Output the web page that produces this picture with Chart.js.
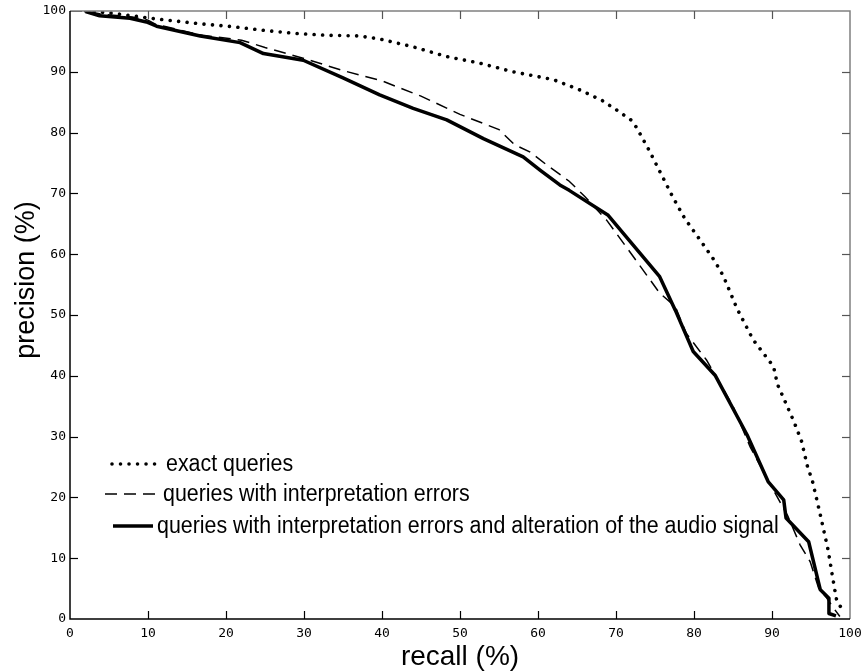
<!DOCTYPE html>
<html>
<head>
<meta charset="utf-8">
<script src="https://cdn.jsdelivr.net/npm/chart.js@4.4.1/dist/chart.umd.min.js"></script>
<style>
  html, body { margin: 0; padding: 0; background: #fff; }
  #wrap { width: 862px; height: 672px; position: relative; }
</style>
</head>
<body>
<div id="wrap"><canvas id="c" width="862" height="672"></canvas></div>
<script>
// ---- data ----
const xTicks = [0, 10, 20, 30, 40, 50, 60, 70, 80, 90, 100];
const yTicks = [0, 10, 20, 30, 40, 50, 60, 70, 80, 90, 100];
const xTitle = "recall (%)";
const yTitle = "precision (%)";

const seriesLabels = [
  "exact queries",
  "queries with interpretation errors",
  "queries with interpretation errors and alteration of the audio signal"
];

const exactRecall    = [2, 5, 8, 11, 16.7, 21, 25, 29, 33, 37, 39.7, 44, 48.3, 52.6, 56.8, 62, 65.4, 68.2, 70.1, 71.9, 72.6, 74.2, 75.7, 77.2, 78.8, 80.8, 82.7, 83.8, 85.5, 86.5, 87.6, 88.9, 90.2, 90.7, 91.6, 92.8, 93.8, 94.5, 95.2, 96.2, 97.2, 97.9, 98.3, 98.8];
const exactPrecision = [100, 99.7, 99.2, 98.7, 97.9, 97.4, 96.8, 96.3, 96.0, 95.9, 95.4, 94.1, 92.5, 91.4, 90.0, 88.7, 87.0, 85.3, 83.7, 82.1, 80.9, 77.2, 73.4, 69.6, 65.9, 62.3, 58.8, 56.3, 51.1, 48.6, 45.9, 43.7, 41.5, 38.6, 36.0, 32.5, 29.2, 25.3, 22.6, 17.1, 11.3, 5.9, 3.0, 2.0];

const interpRecall    = [0, 2, 4, 8, 10, 11, 17, 22, 25, 30, 35, 40, 45, 50, 55, 57, 59, 61, 64, 66, 68.8, 72, 75.6, 77.6, 79, 81.6, 83, 85, 87.2, 89, 91, 92, 93.6, 94.9, 96, 97, 97.9, 98.7];
const interpPrecision = [100, 100, 99.5, 99, 98.5, 97.8, 96, 95.2, 94, 92.2, 90.2, 88.5, 86, 83, 80.5, 78, 76.8, 74.8, 72, 69.5, 65.6, 60, 53.6, 51.4, 47, 42.6, 39.5, 35, 28.3, 24, 19.3, 17, 12.2, 9.4, 5, 3.5, 1.8, 0.4];

const alterRecall    = [2, 3.8, 7.7, 9.8, 11.1, 16.7, 21.8, 24.8, 29.9, 35, 39.7, 44, 48.3, 53, 58.1, 60.3, 62.8, 64, 69, 75.6, 77.6, 79.9, 82.7, 86.8, 89.5, 91.5, 91.8, 94.7, 96.2, 97.3, 97.3, 98.2];
const alterPrecision = [99.9, 99.2, 98.8, 98.2, 97.5, 95.9, 94.8, 93.0, 91.9, 89.0, 86.2, 84.0, 82.1, 79.0, 76.0, 73.8, 71.4, 70.5, 66.4, 56.3, 50.8, 44.0, 40.1, 30.3, 22.6, 19.6, 16.6, 12.7, 4.8, 3.4, 0.9, 0.5];

function pairs(xs, ys) { return xs.map((x, i) => ({ x: x, y: ys[i] })); }

// ---- plugins: frame with inward ticks, y title, and the legend ----
const framePlugin = {
  id: 'frame',
  afterDatasetsDraw(chart) {
    const ctx = chart.ctx, a = chart.chartArea;
    const sx = chart.scales.x, sy = chart.scales.y;
    ctx.save();
    ctx.lineCap = 'butt';
    ctx.strokeStyle = '#808080'; ctx.lineWidth = 1.5;
    ctx.beginPath();
    ctx.moveTo(a.left, a.top); ctx.lineTo(a.right, a.top); ctx.lineTo(a.right, a.bottom);
    ctx.stroke();
    ctx.strokeStyle = '#000'; ctx.lineWidth = 1.5;
    ctx.beginPath();
    ctx.moveTo(a.left, a.top); ctx.lineTo(a.left, a.bottom); ctx.lineTo(a.right, a.bottom);
    ctx.stroke();
    const L = 8;
    xTicks.slice(1, -1).forEach(v => {
      const px = Math.round(sx.getPixelForValue(v)) + 0.5;
      ctx.strokeStyle = '#000'; ctx.lineWidth = 1.2;
      ctx.beginPath(); ctx.moveTo(px, a.bottom); ctx.lineTo(px, a.bottom - L); ctx.stroke();
      ctx.strokeStyle = '#555';
      ctx.beginPath(); ctx.moveTo(px, a.top); ctx.lineTo(px, a.top + L); ctx.stroke();
    });
    yTicks.slice(1, -1).forEach(v => {
      const py = Math.round(sy.getPixelForValue(v)) + 0.5;
      ctx.strokeStyle = '#000'; ctx.lineWidth = 1.2;
      ctx.beginPath(); ctx.moveTo(a.left, py); ctx.lineTo(a.left + L, py); ctx.stroke();
      ctx.strokeStyle = '#555';
      ctx.beginPath(); ctx.moveTo(a.right, py); ctx.lineTo(a.right - L, py); ctx.stroke();
    });
    // y axis title
    ctx.fillStyle = '#000';
    ctx.font = '27px "Liberation Sans", Arial, sans-serif';
    ctx.textAlign = 'center';
    ctx.textBaseline = 'middle';
    ctx.translate(27, 280);
    ctx.rotate(-Math.PI / 2);
    ctx.fillText(yTitle, 0, 0);
    ctx.restore();
  }
};

const legendPlugin = {
  id: 'customLegend',
  afterDatasetsDraw(chart) {
    const ctx = chart.ctx;
    const items = [
      { y: 464, x0: 112, x1: 163, tx: 166 },
      { y: 494, x0: 105, x1: 161, tx: 163 },
      { y: 526, x0: 113, x1: 153, tx: 157 }
    ];
    chart.data.datasets.forEach((ds, i) => {
      const it = items[i];
      ctx.save();
      ctx.strokeStyle = '#000';
      ctx.lineWidth = ds.borderWidth;
      ctx.lineCap = ds.borderCapStyle || 'butt';
      ctx.setLineDash(ds.borderDash || []);
      ctx.beginPath(); ctx.moveTo(it.x0, it.y); ctx.lineTo(it.x1, it.y); ctx.stroke();
      ctx.setLineDash([]);
      ctx.fillStyle = '#000';
      ctx.font = '23.5px "Liberation Sans", Arial, sans-serif';
      ctx.textBaseline = 'middle';
      ctx.textAlign = 'left';
      ctx.translate(it.tx, it.y + 1);
      ctx.scale(0.91, 1);
      ctx.fillText(ds.label, 0, 0);
      ctx.restore();
    });
  }
};

const tickFont = { family: '"DejaVu Sans Mono", monospace', size: 13 };
const titleFont = { family: '"Liberation Sans", Arial, sans-serif', size: 28 };

new Chart(document.getElementById('c'), {
  type: 'scatter',
  data: {
    datasets: [
      {
        label: seriesLabels[0],
        data: pairs(exactRecall, exactPrecision),
        showLine: true, pointRadius: 0, borderColor: '#000', borderWidth: 3.6,
        borderDash: [0.01, 8.5], borderCapStyle: 'round', tension: 0
      },
      {
        label: seriesLabels[1],
        data: pairs(interpRecall, interpPrecision),
        showLine: true, pointRadius: 0, borderColor: '#000', borderWidth: 1.5,
        borderDash: [12, 7], borderCapStyle: 'butt', tension: 0
      },
      {
        label: seriesLabels[2],
        data: pairs(alterRecall, alterPrecision),
        showLine: true, pointRadius: 0, borderColor: '#000', borderWidth: 3.5,
        borderCapStyle: 'butt', borderJoinStyle: 'round', tension: 0
      }
    ]
  },
  options: {
    responsive: false,
    animation: false,
    devicePixelRatio: 1,
    layout: { padding: { top: 11, right: 12, left: 0, bottom: 0 } },
    plugins: { legend: { display: false }, tooltip: { enabled: false } },
    scales: {
      x: {
        type: 'linear', min: 0, max: 100,
        afterFit(s) { s.height = 53; s.paddingRight = 0; s.paddingLeft = 0; },
        afterBuildTicks(s) { s.ticks = xTicks.map(v => ({ value: v })); },
        grid: { display: false, drawTicks: false }, border: { display: false },
        ticks: { font: tickFont, color: '#000', padding: 7, maxRotation: 0, autoSkip: false },
        title: { display: true, text: xTitle, font: titleFont, color: '#000', padding: { top: 0, bottom: -2 } }
      },
      y: {
        type: 'linear', min: 0, max: 100,
        afterFit(s) { s.width = 70; s.paddingTop = 0; s.paddingBottom = 0; },
        afterBuildTicks(s) { s.ticks = yTicks.map(v => ({ value: v })); },
        grid: { display: false, drawTicks: false }, border: { display: false },
        ticks: { font: tickFont, color: '#000', padding: 4, autoSkip: false },
        title: { display: false }
      }
    }
  },
  plugins: [framePlugin, legendPlugin]
});
</script>
</body>
</html>
